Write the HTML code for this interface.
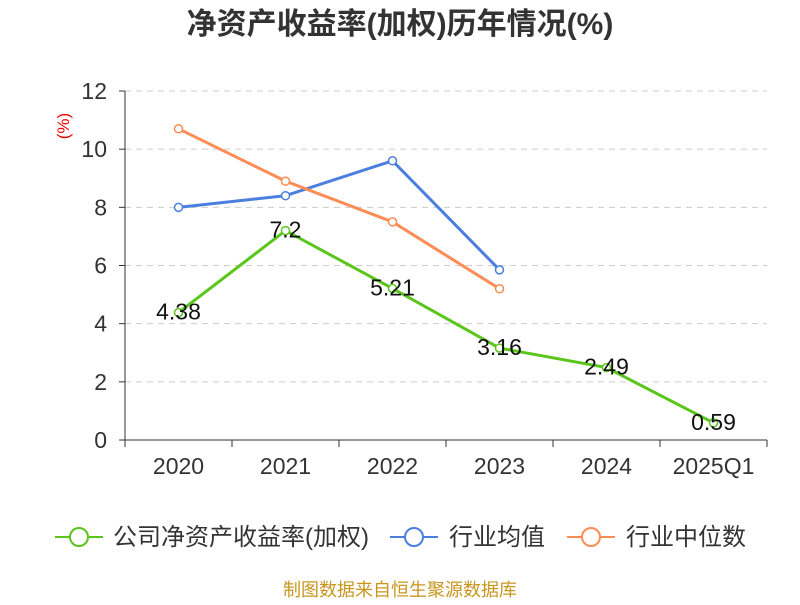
<!DOCTYPE html>
<html><head><meta charset="utf-8"><style>
body{margin:0;background:#fff;font-family:"Liberation Sans","Noto Sans CJK SC",sans-serif;}
</style></head><body>
<svg id="c" width="800" height="600" xmlns="http://www.w3.org/2000/svg">
<text x="400" y="34" text-anchor="middle" font-size="30" font-weight="bold" fill="#333" font-family="Liberation Sans,Noto Sans CJK SC,sans-serif">净资产收益率(加权)历年情况(%)</text>
<text x="69" y="126" transform="rotate(-90 69 126)" text-anchor="middle" font-size="17" fill="#e00">(%)</text>
<g id="grid"></g><g id="axes"></g><g id="series"></g>
<g font-size="24" fill="#333" font-family="Liberation Sans,Noto Sans CJK SC,sans-serif">
<g><line x1="55" y1="537" x2="103" y2="537" stroke="#5ac51a" stroke-width="2"/><circle cx="79" cy="537" r="9" fill="#fff" stroke="#5ac51a" stroke-width="2"/><text x="113" y="545">公司净资产收益率(加权)</text></g>
<g><line x1="390" y1="537" x2="438" y2="537" stroke="#4a7fe0" stroke-width="2"/><circle cx="414" cy="537" r="9" fill="#fff" stroke="#4a7fe0" stroke-width="2"/><text x="449" y="545">行业均值</text></g>
<g><line x1="567" y1="537" x2="615" y2="537" stroke="#ff8c55" stroke-width="2"/><circle cx="591" cy="537" r="9" fill="#fff" stroke="#ff8c55" stroke-width="2"/><text x="626" y="545">行业中位数</text></g>
</g>
<text x="400" y="596" text-anchor="middle" font-size="18" fill="#c8961e">制图数据来自恒生聚源数据库</text>
</svg>
<script>
const categories=["2020","2021","2022","2023","2024","2025Q1"];
const companyValues=[4.38,7.2,5.21,3.16,2.49,0.59];
const industryAvg=[8.0,8.4,9.6,5.85];
const industryMedian=[10.7,8.9,7.5,5.2];
const yTicks=[0,2,4,6,8,10,12];
const NS="http://www.w3.org/2000/svg";
const x0=125,x1=767,yb=440,yt=91;
const bw=(x1-x0)/categories.length;
const xs=i=>x0+bw*(i+0.5);
const ys=v=>yb-(v/12)*(yb-yt);
function mk(t,a,p){const e=document.createElementNS(NS,t);for(const k in a)e.setAttribute(k,a[k]);p.appendChild(e);return e;}
const grid=document.getElementById('grid'),axes=document.getElementById('axes'),ser=document.getElementById('series');
yTicks.forEach(v=>{
 if(v>0){const g=mk('line',{x1:x0,x2:x1,y1:ys(v),y2:ys(v),stroke:'#ccc','stroke-dasharray':'6,5'},grid);
 
 }
 const t=mk('text',{x:107,y:ys(v)+8,'text-anchor':'end','font-size':23,fill:'#333'},axes);t.textContent=v;
 
 
 mk('line',{x1:119,x2:x0,y1:ys(v),y2:ys(v),stroke:'#333'},axes);
});
mk('line',{x1:x0,x2:x0,y1:yt,y2:yb,stroke:'#333'},axes);
mk('line',{x1:x0,x2:x1,y1:yb,y2:yb,stroke:'#333'},axes);
categories.forEach((c,i)=>{
 mk('line',{x1:x0+bw*i,x2:x0+bw*i,y1:yb,y2:yb+7,stroke:'#333'},axes);
 const t=mk('text',{x:xs(i),y:474,'text-anchor':'middle','font-size':23,fill:'#333'},axes);t.textContent=c;
 
 
});
mk('line',{x1:x1,x2:x1,y1:yb,y2:yb+7,stroke:'#333'},axes);
function line(vals,color,name,labels){
 const g=mk('g',{},ser);
 
 
 mk('polyline',{points:vals.map((v,i)=>xs(i)+','+ys(v)).join(' '),fill:'none',stroke:color,'stroke-width':3},g);
 vals.forEach((v,i)=>{
  const p=mk('circle',{cx:xs(i),cy:ys(v),r:4,fill:'#fff',stroke:color,'stroke-width':1.5},g);
  
  
  if(labels){const t=mk('text',{x:xs(i),y:ys(v)+7,'text-anchor':'middle','font-size':23,fill:'#111'},g);t.textContent=v;
  
  }
 });
}
line(industryAvg,'#4a7fe0','industry-avg-line',false);
line(industryMedian,'#ff8c55','industry-median-line',false);
line(companyValues,'#5ac51a','company-roe-line',true);
</script>
</body></html>
